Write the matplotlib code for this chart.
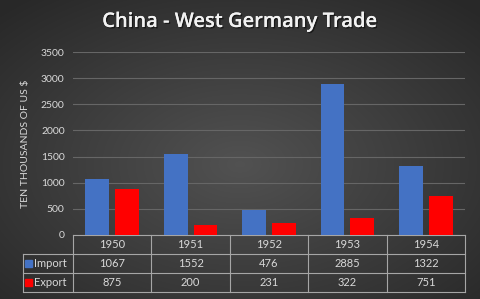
import numpy as np
import matplotlib.pyplot as plt
import matplotlib.patheffects as pe
from matplotlib.patches import Rectangle
from matplotlib.transforms import blended_transform_factory

# data
years = ['1950', '1951', '1952', '1953', '1954']
imports = [1067, 1552, 476, 2885, 1322]
exports = [875, 200, 231, 322, 751]
y_ticks = [0, 500, 1000, 1500, 2000, 2500, 3000, 3500]

blue = '#4472C4'
red = '#FF0000'
txt = '#D9D9D9'

plt.rcParams['font.family'] = ['Lato', 'DejaVu Sans']

W, H = 480, 299
fig = plt.figure(figsize=(W / 100, H / 100), dpi=100)

# radial dark gradient background
bg = fig.add_axes([0, 0, 1, 1], zorder=-10)
yy, xx = np.mgrid[0:1:300j, 0:1:480j]
r = np.sqrt(((xx - 0.5) / 0.75) ** 2 + ((yy - 0.45) / 0.75) ** 2)
shade = np.clip(0.32 - 0.17 * r, 0.16, 0.32)
bg.imshow(np.dstack([shade] * 3), aspect='auto', extent=[0, 1, 0, 1], origin='lower')
bg.axis('off')

left, right, bottom, top = 73, 465, 235, 52
ax = fig.add_axes([left / W, 1 - bottom / H, (right - left) / W, (bottom - top) / H])
ax.set_facecolor('none')

x = np.arange(len(years))
bw = 0.305
off = 0.19
ax.bar(x - off, imports, bw, color=blue, zorder=3)
ax.bar(x + off, exports, bw, color=red, zorder=3)

ax.set_xlim(-0.5, len(years) - 0.5)
ax.set_ylim(0, 3500)
ax.set_yticks(y_ticks)
ax.set_yticklabels([str(t) for t in y_ticks], color=txt, fontsize=7.5)
ax.tick_params(axis='y', length=0, pad=6)
ax.set_xticks([])
ax.grid(axis='y', color='#666666', linewidth=0.8, zorder=0)
for s in ax.spines.values():
    s.set_visible(False)

ax.set_ylabel('TEN THOUSANDS OF US $', color=txt, fontsize=7.5, labelpad=8)

# data table under the plot
tr = blended_transform_factory(ax.transData, ax.transAxes)
rh = 19 / (bottom - top)
lab_left = (23 - left) / (right - left)
lc = '#A6A6A6'
n = len(years)
fs = 8

# horizontal lines
ax.plot([-0.5, n - 0.5], [0, 0], transform=tr, color=lc, lw=0.8, clip_on=False)
for k in range(1, 4):
    ax.plot([lab_left, 1], [-k * rh, -k * rh], transform=ax.transAxes,
            color=lc, lw=0.8, clip_on=False)
# vertical lines
for i in range(n + 1):
    ax.plot([i - 0.5, i - 0.5], [0, -3 * rh], transform=tr, color=lc, lw=0.8, clip_on=False)
ax.plot([lab_left, lab_left], [-rh, -3 * rh], transform=ax.transAxes, color=lc, lw=0.8, clip_on=False)

for i, yr in enumerate(years):
    ax.text(i, -0.5 * rh, yr, transform=tr, ha='center', va='center', color=txt, fontsize=fs)
    ax.text(i, -1.5 * rh, str(imports[i]), transform=tr, ha='center', va='center', color=txt, fontsize=fs)
    ax.text(i, -2.5 * rh, str(exports[i]), transform=tr, ha='center', va='center', color=txt, fontsize=fs)

for k, (name, col) in enumerate([('Import', blue), ('Export', red)]):
    yc = -(1.5 + k) * rh
    sq = 7 / (right - left)
    ax.add_patch(Rectangle((lab_left + 0.006, yc - 3.5 / (bottom - top)), sq, 7 / (bottom - top),
                           transform=ax.transAxes, color=col, clip_on=False))
    ax.text(lab_left + 0.006 + sq + 0.003, yc, name, transform=ax.transAxes,
            ha='left', va='center', color=txt, fontsize=fs)

fig.text(0.5, 1 - 22 / H, 'China - West Germany Trade', ha='center', va='center',
         color='#F2F2F2', fontsize=14.5, fontweight='semibold', family=['Open Sans', 'DejaVu Sans'],
         path_effects=[pe.withSimplePatchShadow(offset=(1, -1), shadow_rgbFace='black', alpha=0.5),
                       pe.Normal()])

fig.savefig('out.png', dpi=100)
